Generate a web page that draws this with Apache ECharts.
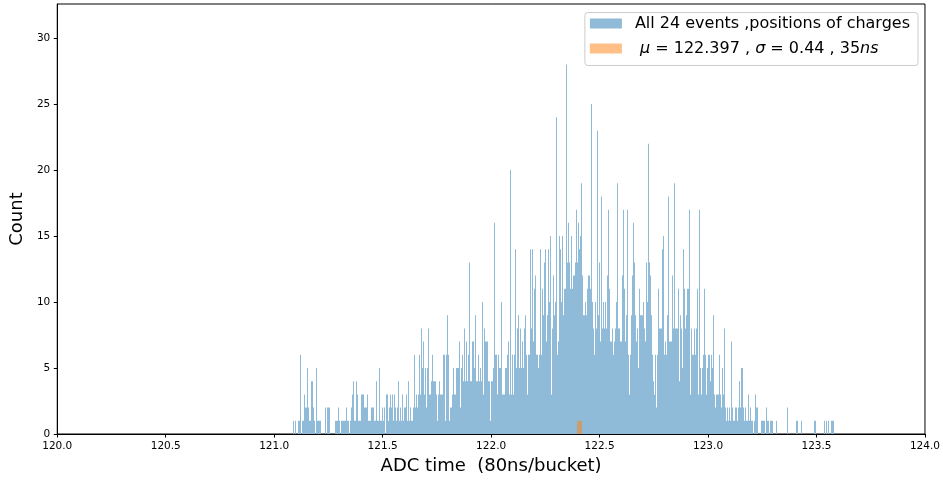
<!DOCTYPE html>
<html>
<head>
<meta charset="utf-8">
<title>ADC time histogram</title>
<script src="https://cdn.jsdelivr.net/npm/echarts@6/dist/echarts.min.js"></script>
<style>
  html, body { margin: 0; padding: 0; background: #ffffff; }
  #chart { width: 943px; height: 480px; }
</style>
</head>
<body>
<div id="chart"></div>
<script>
// Histogram binning: bins of equal width starting at binStart
const binStart = 121.082;
const binWidth = 0.0046;

// Counts per bin for all 24 events (charge positions)
const counts = [
  0,1,0,1,0,0,1,1,6,0,
  1,1,3,2,2,5,2,1,1,4,
  4,2,1,0,5,1,1,1,1,0,
  0,0,0,2,0,2,2,2,0,0,
  0,0,0,1,1,1,2,1,0,1,
  1,1,1,1,2,1,1,0,1,2,
  3,4,1,1,4,3,1,1,1,3,
  3,3,2,2,2,3,1,1,1,2,
  2,2,1,1,4,1,1,5,1,1,
  2,1,2,0,3,3,1,2,3,2,
  3,1,3,2,1,2,4,1,2,1,
  3,1,2,2,3,1,4,1,2,1,
  1,2,6,2,3,2,3,6,3,8,
  5,7,3,5,2,5,8,3,3,4,
  6,4,4,4,3,1,3,4,3,3,
  3,6,6,1,6,9,6,1,2,2,
  3,5,3,3,5,5,5,7,2,5,
  6,4,8,4,7,4,6,13,4,4,
  7,7,5,9,4,4,6,4,5,4,
  10,3,8,7,7,7,4,4,1,4,
  4,5,16,6,6,3,6,5,5,10,
  3,3,3,5,5,6,7,3,20,3,
  6,3,6,9,14,5,8,9,5,8,
  5,7,5,8,9,6,3,6,6,14,
  8,14,7,11,12,6,6,5,6,14,
  6,11,9,13,14,7,9,14,10,15,
  3,8,12,9,10,24,6,7,15,14,
  10,15,9,11,11,28,13,16,13,11,
  15,11,12,12,13,17,13,16,14,15,
  19,12,9,9,10,9,11,12,12,11,
  25,10,8,6,10,8,23,9,13,7,
  18,8,10,8,10,8,12,17,11,7,
  7,8,6,7,8,10,19,8,8,7,
  7,12,17,11,7,9,17,6,3,6,
  9,12,16,13,9,7,8,5,11,9,
  9,9,10,8,7,13,10,22,13,12,
  9,6,4,3,6,2,6,11,8,8,
  8,14,15,6,7,6,9,18,7,7,
  7,12,8,19,8,8,8,11,4,9,
  8,5,14,11,8,9,11,11,17,3,
  8,6,6,8,6,8,11,3,17,5,
  3,5,6,11,6,3,5,6,6,4,
  6,5,9,3,2,3,3,3,6,3,
  2,5,3,8,2,1,2,1,2,1,
  7,2,1,1,2,2,1,2,4,2,
  5,5,2,1,2,1,1,3,1,2,
  1,1,0,1,3,2,2,0,0,0,
  1,1,1,1,0,2,1,1,0,1,
  1,1,0,0,0,1,0,0,0,0,
  0,0,0,0,0,0,2,0,0,0,
  0,0,0,0,0,1,1,0,0,0,
  1,0,0,0,0,0,0,0,0,0,
  0,0,0,1,1,0,0,0,0,0,
  0,0,0,1,0,1,0,1,0,0,
  1,1,1,0,0
];

// Fitted mean marker: one bin
const meanBin = [122.395, 122.417];
const meanCount = 1;

const xTicks = [120.0, 120.5, 121.0, 121.5, 122.0, 122.5, 123.0, 123.5, 124.0];
const yTicks = [0, 5, 10, 15, 20, 25, 30];

const seriesNames = ['All 24 events ,positions of charges', 'μ = 122.397 , σ = 0.44 , 35ns'];

const FONT = 'DejaVu Sans';

// Build [left edge, right edge, count] rows for the custom series
const histRows = [];
counts.forEach(function (c, i) {
  if (c > 0) {
    const x0 = binStart + i * binWidth;
    histRows.push([x0, x0 + binWidth, c]);
  }
});
const meanRows = [[meanBin[0], meanBin[1], meanCount]];

// Bars snapped to whole pixel columns so adjacent bins join without seams
function barRenderer(fill) {
  return function (params, api) {
    const top = api.coord([api.value(0), api.value(2)]);
    const bottom = api.coord([api.value(1), 0]);
    const xl = Math.round(top[0]);
    const xr = Math.max(xl + 1, Math.round(bottom[0]));
    return {
      type: 'rect',
      shape: { x: xl, y: top[1], width: xr - xl, height: bottom[1] - top[1] },
      style: { fill: fill }
    };
  };
}

const chart = echarts.init(document.getElementById('chart'), null, { renderer: 'canvas' });

chart.setOption({
  animation: false,
  backgroundColor: '#ffffff',
  grid: {
    left: 54.5, right: 18, top: 4, bottom: 46,
    show: true, borderColor: '#000000', borderWidth: 1, backgroundColor: 'transparent'
  },
  legend: {
    orient: 'vertical',
    right: 25,
    top: 12.5,
    padding: [3, 8, 9, 5],
    itemGap: 9,
    itemWidth: 32,
    itemHeight: 10,
    icon: 'rect',
    backgroundColor: 'rgba(255,255,255,0.8)',
    borderColor: '#cccccc',
    borderWidth: 1,
    borderRadius: 3,
    data: seriesNames,
    formatter: function (name) {
      if (name === seriesNames[1]) {
        return ' {i|μ} = 122.397 , {i|σ} = 0.44 , 35{i|ns}';
      }
      return name;
    },
    textStyle: {
      fontFamily: FONT,
      fontSize: 16,
      lineHeight: 16,
      color: '#000000',
      padding: [0, 0, 0, 8],
      rich: {
        i: { fontFamily: FONT, fontSize: 16, fontStyle: 'italic', color: '#000000' }
      }
    }
  },
  xAxis: {
    type: 'value',
    min: 120,
    max: 124,
    interval: 0.5,
    name: 'ADC time  (80ns/bucket)',
    nameLocation: 'middle',
    nameGap: 22,
    nameTextStyle: { fontFamily: FONT, fontSize: 18, color: '#000000' },
    axisLine: { show: true, onZero: false, lineStyle: { color: '#000000', width: 1 } },
    axisTick: { show: true, length: 3.5, lineStyle: { color: '#000000', width: 1 }, customValues: xTicks },
    axisLabel: {
      fontFamily: FONT, fontSize: 10.5, color: '#000000', margin: 7,
      customValues: xTicks,
      formatter: function (v) { return v.toFixed(1); }
    },
    splitLine: { show: false }
  },
  yAxis: {
    type: 'value',
    min: 0,
    max: 32.58,
    interval: 5,
    name: 'Count',
    nameLocation: 'middle',
    nameGap: 27,
    nameRotate: 90,
    nameTextStyle: { fontFamily: FONT, fontSize: 18, color: '#000000' },
    axisLine: { show: true, lineStyle: { color: '#000000', width: 1 } },
    axisTick: { show: true, length: 3.5, lineStyle: { color: '#000000', width: 1 }, customValues: yTicks },
    axisLabel: {
      fontFamily: FONT, fontSize: 10.5, color: '#000000', margin: 7,
      customValues: yTicks
    },
    splitLine: { show: false }
  },
  series: [
    {
      name: seriesNames[0],
      type: 'custom',
      renderItem: barRenderer('#8fbbd9'),
      itemStyle: { color: '#8fbbd9' },
      encode: { x: [0, 1], y: 2 },
      clip: true,
      data: histRows
    },
    {
      name: seriesNames[1],
      type: 'custom',
      renderItem: barRenderer('rgba(255,127,14,0.5)'),
      itemStyle: { color: 'rgba(255,127,14,0.5)' },
      encode: { x: [0, 1], y: 2 },
      clip: true,
      data: meanRows
    }
  ]
});
</script>
</body>
</html>
